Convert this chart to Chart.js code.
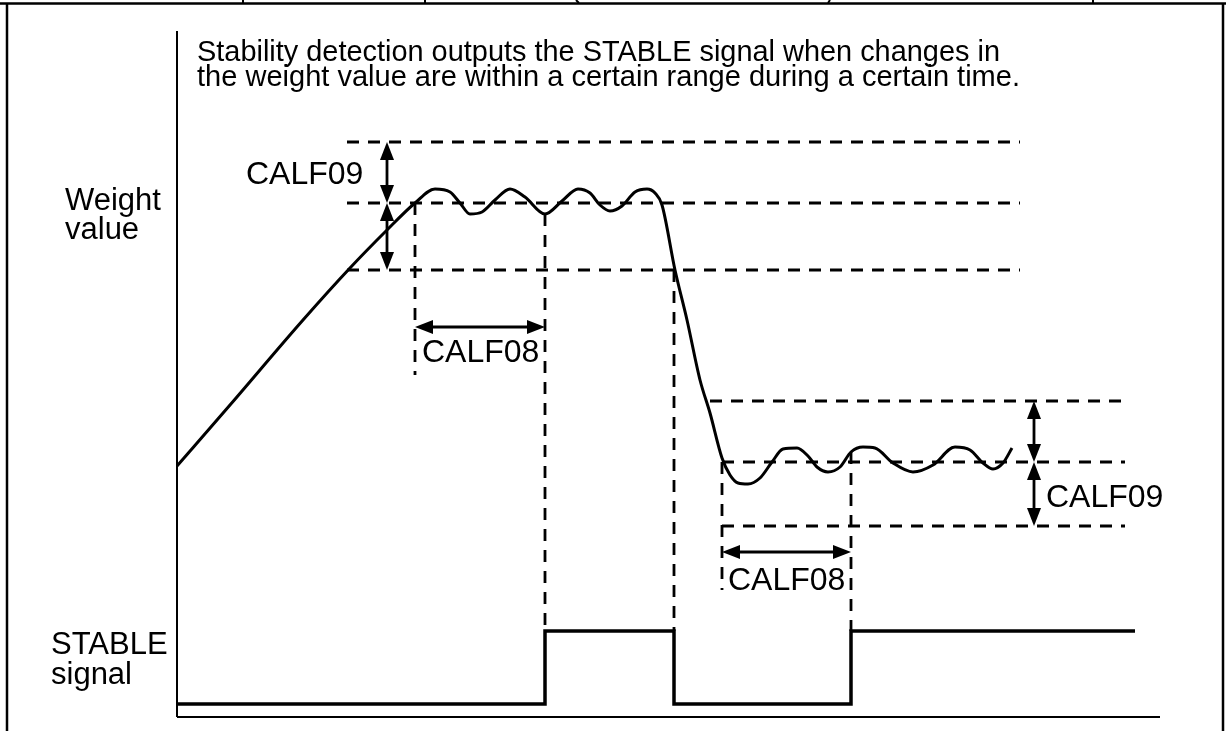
<!DOCTYPE html>
<html>
<head>
<meta charset="utf-8">
<script src="https://cdn.jsdelivr.net/npm/chart.js@4/dist/chart.umd.min.js"></script>
<style>
  html, body { margin: 0; padding: 0; background: #fff; }
  #wrap { width: 1226px; height: 731px; }
</style>
</head>
<body>
<div id="wrap"><canvas id="stableChart" width="1226" height="731"></canvas></div>
<script>
// time and weight in arbitrary units
const weightTime = [0, 5.3, 12.6, 17.3, 21.0, 23.8, 25.8, 27.3, 28.3, 29.3, 30.5, 31.8, 33.3, 34.8, 36.8, 38.5, 40.1, 41.3, 42.3, 43.3, 44.5, 45.8, 47.0, 47.8, 48.5, 49.8, 51.0, 52.3, 53.3, 54.5, 55.3, 56.1, 57.1, 58.3, 59.5, 60.6, 62.0, 63.1, 64.0, 65.1, 66.3, 67.4, 68.6, 69.8, 71.6, 73.6, 75.6, 77.8, 79.3, 80.6, 81.6, 82.6, 83.5];
const weightValue = [25.1, 31.2, 39.7, 44.9, 48.7, 51.4, 52.8, 52.5, 51.4, 50.3, 50.5, 51.7, 52.8, 52.0, 50.3, 51.6, 52.8, 52.4, 51.2, 50.6, 51.1, 52.5, 52.8, 52.4, 51.2, 44.7, 39.7, 33.7, 30.4, 25.9, 24.2, 23.4, 23.3, 23.9, 25.5, 26.8, 26.9, 26.1, 25.0, 24.5, 25.0, 26.5, 27.0, 26.9, 25.4, 24.5, 25.2, 27.0, 26.7, 25.4, 24.8, 25.4, 26.9];

const stableTime = [0, 36.8, 49.7, 67.4, 95.8];
const stableLevel = [1.3, 8.6, 1.3, 8.6, 8.6];

// CALF09 bands (upper and lower) and where they run
const upperLevels = [57.5, 51.4, 44.7];
const upperStart = [17.0, 17.0, 17.0];
const upperEnd = [84.3, 84.3, 84.3];
const lowerLevels = [31.6, 25.5, 19.1];
const lowerStart = [53.3, 54.5, 54.5];
const lowerEnd = [94.8, 94.8, 94.8];

// vertical marker lines
const markTimes = [23.8, 36.8, 49.7, 54.5, 67.4];
const markFrom = [51.4, 50.3, 44.7, 25.5, 26.5];
const markTo = [34.2, 8.6, 8.6, 12.7, 8.6];

const titleLines = [
  'Stability detection outputs the STABLE signal when changes in',
  'the weight value are within a certain range during a certain time.'
];

const BLACK = '#000';
const FONT = '"Liberation Sans", Arial, sans-serif';
const DASH = [12, 9];

function pts(xs, ys) { return xs.map((x, i) => ({ x: x, y: ys[i] })); }

const datasets = [];

// axes frame
datasets.push({ data: pts([0, 0], [68.6, 0]), borderColor: BLACK, borderWidth: 2 });
datasets.push({ data: pts([0, 98.3], [0, 0]), borderColor: BLACK, borderWidth: 2 });

// dashed threshold lines
upperLevels.forEach((lv, i) => {
  datasets.push({ data: pts([upperStart[i], upperEnd[i]], [lv, lv]), borderColor: BLACK, borderWidth: 2.8, borderDash: DASH });
});
lowerLevels.forEach((lv, i) => {
  datasets.push({ data: pts([lowerStart[i], lowerEnd[i]], [lv, lv]), borderColor: BLACK, borderWidth: 2.8, borderDash: DASH });
});
markTimes.forEach((t, i) => {
  datasets.push({ data: pts([t, t], [markFrom[i], markTo[i]]), borderColor: BLACK, borderWidth: 2.8, borderDash: DASH });
});

// weight curve
datasets.push({
  data: pts(weightTime, weightValue),
  borderColor: BLACK,
  borderWidth: 3,
  cubicInterpolationMode: 'monotone'
});

// STABLE signal
datasets.push({
  data: pts(stableTime, stableLevel),
  borderColor: BLACK,
  borderWidth: 3.5,
  stepped: true
});

function arrowHead(ctx, x, y, dx, dy) {
  const len = 18, half = 7;
  const bx = x - dx * len, by = y - dy * len;
  ctx.beginPath();
  ctx.moveTo(x, y);
  ctx.lineTo(bx - dy * half, by + dx * half);
  ctx.lineTo(bx + dy * half, by - dx * half);
  ctx.closePath();
  ctx.fill();
}

function doubleArrow(ctx, x1, y1, x2, y2) {
  const L = Math.hypot(x2 - x1, y2 - y1);
  const dx = (x2 - x1) / L, dy = (y2 - y1) / L;
  ctx.beginPath();
  ctx.moveTo(x1 + dx * 8, y1 + dy * 8);
  ctx.lineTo(x2 - dx * 8, y2 - dy * 8);
  ctx.stroke();
  arrowHead(ctx, x2, y2, dx, dy);
  arrowHead(ctx, x1, y1, -dx, -dy);
}

const annotations = {
  id: 'annotations',
  afterDatasetsDraw(chart) {
    const ctx = chart.ctx;
    const xs = chart.scales.x, ys = chart.scales.y;
    const X = v => xs.getPixelForValue(v);
    const Y = v => ys.getPixelForValue(v);
    ctx.save();
    ctx.strokeStyle = BLACK;
    ctx.fillStyle = BLACK;
    ctx.lineWidth = 2.8;

    // vertical CALF09 arrows
    doubleArrow(ctx, X(21.0), Y(upperLevels[0]), X(21.0), Y(upperLevels[1]));
    doubleArrow(ctx, X(21.0), Y(upperLevels[1]), X(21.0), Y(upperLevels[2]));
    doubleArrow(ctx, X(85.7), Y(lowerLevels[0]), X(85.7), Y(lowerLevels[1]));
    doubleArrow(ctx, X(85.7), Y(lowerLevels[1]), X(85.7), Y(lowerLevels[2]));
    // horizontal CALF08 arrows
    doubleArrow(ctx, X(markTimes[0]), Y(39.0), X(markTimes[1]), Y(39.0));
    doubleArrow(ctx, X(markTimes[3]), Y(16.5), X(markTimes[4]), Y(16.5));

    // labels
    ctx.font = '32px ' + FONT;
    ctx.textBaseline = 'alphabetic';
    ctx.textAlign = 'left';
    ctx.fillText('CALF09', X(6.9), Y(53.3));
    ctx.fillText('CALF09', X(86.9), Y(21.0));
    ctx.fillText('CALF08', X(24.5), Y(35.5));
    ctx.fillText('CALF08', X(55.1), Y(12.7));

    ctx.font = '31px ' + FONT;
    ctx.fillText('Weight', 65, 210);
    ctx.fillText('value', 65, 239);
    ctx.fillText('STABLE', 51, 654);
    ctx.fillText('signal', 51, 684);

    // title, condensed to the original width
    ctx.font = '30px ' + FONT;
    const widths = [803, 823];
    const bases = [61, 86];
    titleLines.forEach((line, i) => {
      const w = ctx.measureText(line).width;
      ctx.save();
      ctx.translate(197, bases[i]);
      ctx.scale(widths[i] / w, 1);
      ctx.fillText(line, 0, 0);
      ctx.restore();
    });

    // page frame
    ctx.lineWidth = 2.5;
    ctx.beginPath();
    ctx.moveTo(0, 3.5); ctx.lineTo(chart.width, 3.5);
    ctx.moveTo(7, 3.5); ctx.lineTo(7, chart.height);
    ctx.moveTo(1223, 3.5); ctx.lineTo(1223, chart.height);
    ctx.stroke();
    ctx.lineWidth = 2;
    ctx.beginPath();
    [243, 425, 1093].forEach(x => { ctx.moveTo(x, 0); ctx.lineTo(x, 3); });
    ctx.moveTo(576, 0); ctx.lineTo(579, 3);
    ctx.moveTo(830, 0); ctx.lineTo(828, 3);
    ctx.stroke();
    ctx.restore();
  }
};

new Chart(document.getElementById('stableChart'), {
  type: 'line',
  data: { datasets: datasets.map(d => Object.assign({ pointRadius: 0, fill: false, tension: 0 }, d)) },
  options: {
    responsive: false,
    animation: false,
    events: [],
    layout: { padding: 0, autoPadding: false },
    plugins: { legend: { display: false }, tooltip: { enabled: false } },
    scales: {
      x: { type: 'linear', min: -17.7, max: 104.9, display: false },
      y: { type: 'linear', min: -1.4, max: 71.7, display: false }
    }
  },
  plugins: [annotations]
});
</script>
</body>
</html>
